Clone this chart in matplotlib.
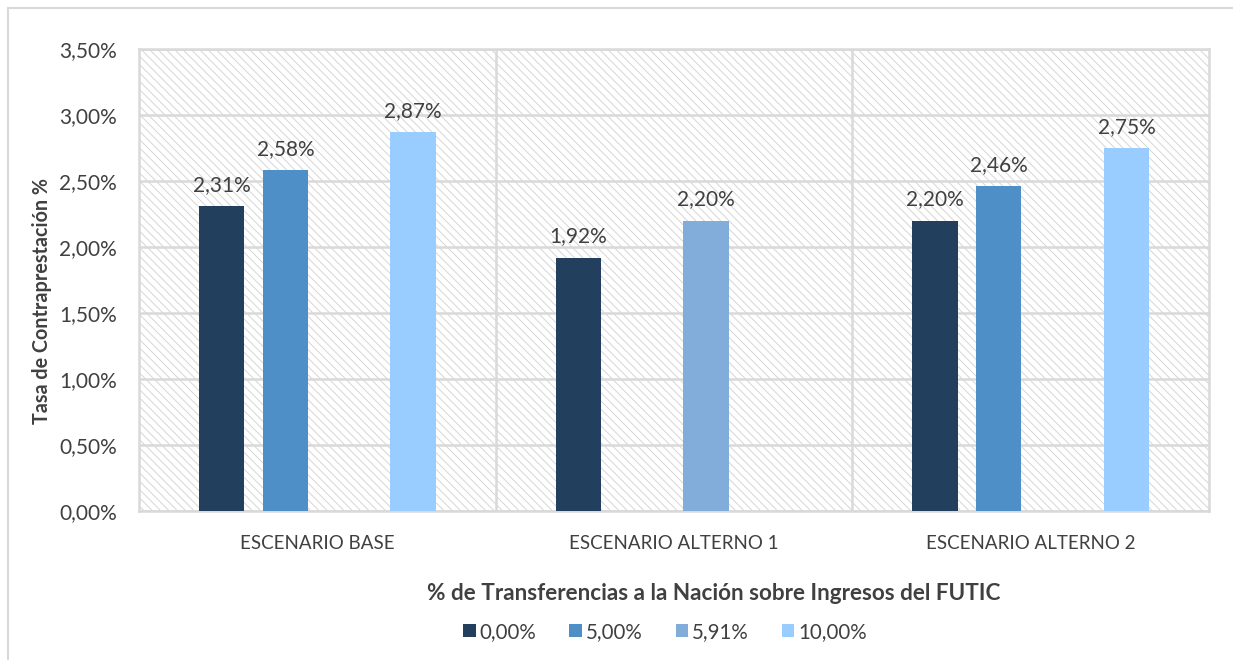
import matplotlib.pyplot as plt
import matplotlib as mpl
from matplotlib.patches import Rectangle, Patch
from matplotlib.ticker import FuncFormatter
import numpy as np

mpl.rcParams['font.family'] = ['Lato', 'DejaVu Sans']
mpl.rcParams['hatch.linewidth'] = 0.7

# escenarios y series
escenarios = ["ESCENARIO BASE", "ESCENARIO ALTERNO 1", "ESCENARIO ALTERNO 2"]
series = ["0,00%", "5,00%", "5,91%", "10,00%"]
colores = ["#223F5E", "#4F8FC7", "#82ACDA", "#99CCFF"]
# tasa de contraprestación (%), None = sin barra
tasa_0 = [2.31, 1.92, 2.20]
tasa_5 = [2.58, None, 2.46]
tasa_591 = [None, 2.20, None]
tasa_10 = [2.87, None, 2.75]
valores = [tasa_0, tasa_5, tasa_591, tasa_10]

gris_txt = '#404040'
gris_lin = '#d9d9d9'
gris_raya = '#d6d6d6'

fig = plt.figure(figsize=(12.33, 6.6), dpi=100)
fig.patches.append(Rectangle((8 / 1233, -0.1), 1.2, 1 - 8 / 660 + 0.1,
                             transform=fig.transFigure, fill=False,
                             edgecolor=gris_lin, linewidth=1.5))
ax = fig.add_axes([139 / 1233, 1 - 511 / 660, 1070 / 1233, 462 / 660])

ax.set_xlim(-0.5, 2.5)
ax.set_ylim(0, 3.5)
# fondo rayado
ax.add_patch(Rectangle((0, 0), 1, 1, transform=ax.transAxes, facecolor='white',
                       edgecolor=gris_raya, linewidth=0, hatch='\\\\\\\\', zorder=0))

paso = 0.179
ancho = 0.127
x = np.arange(len(escenarios))
for i, (serie, col) in enumerate(zip(valores, colores)):
    for j, v in enumerate(serie):
        if v is None:
            continue
        xp = x[j] + (i - 1.5) * paso
        ax.bar(xp, v, width=ancho, color=col, zorder=3)
        ax.text(xp, v + 0.085, f"{v:.2f}%".replace('.', ','), ha='center',
                va='bottom', fontsize=15, color=gris_txt, zorder=4)

ax.set_yticks(np.arange(0, 3.51, 0.5))
ax.yaxis.set_major_formatter(FuncFormatter(lambda v, p: f"{v:.2f}%".replace('.', ',')))
ax.set_xticks(x)
ax.set_xticklabels(escenarios)
ax.tick_params(axis='y', length=0, labelsize=15, labelcolor=gris_txt, pad=16)
ax.tick_params(axis='x', length=0, labelsize=13.5, labelcolor=gris_txt, pad=17)
ax.grid(axis='y', color=gris_lin, linewidth=1.8, zorder=1)
for b in [0.5, 1.5]:
    ax.axvline(b, color=gris_lin, linewidth=1.8, zorder=1)
for s in ax.spines.values():
    s.set_color(gris_lin)
    s.set_linewidth(1.8)
ax.set_axisbelow(True)

fig.text(42 / 1233, 1 - 301 / 660, "Tasa de Contraprestación %", rotation=90,
         ha='center', va='center', fontsize=14.2, fontweight='bold', color=gris_txt)
fig.text(714 / 1233, 1 - 593 / 660,
         "% de Transferencias a la Nación sobre Ingresos del FUTIC",
         ha='center', va='center', fontsize=16.2, fontweight='bold', color=gris_txt)

handles = [Patch(facecolor=c, edgecolor='none') for c in colores]
fig.legend(handles, series, loc='center', bbox_to_anchor=(665 / 1233, 1 - 632 / 660),
           ncol=4, frameon=False, fontsize=14.8, labelcolor=gris_txt,
           handlelength=0.6, handleheight=0.6, handletextpad=0.2, columnspacing=1.6)

fig.savefig('out.png', dpi=100)
